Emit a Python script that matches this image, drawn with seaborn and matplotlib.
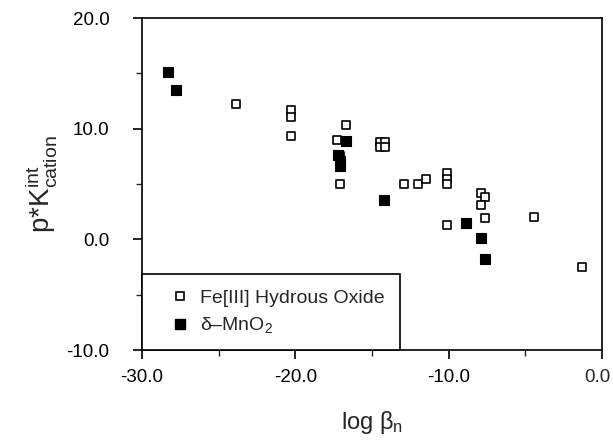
import matplotlib
matplotlib.use('Agg')
import matplotlib.pyplot as plt
import seaborn as sns
import pandas as pd
from matplotlib.lines import Line2D
from matplotlib.ticker import MultipleLocator, FuncFormatter, FormatStrFormatter

# Fe[III] hydrous oxide (open squares)
fe_log_beta = [-23.9, -20.3, -20.3, -20.3, -16.7, -17.25, -17.1, -17.1,
               -14.5, -14.15, -14.5, -14.15, -12.9, -12.0, -11.5,
               -10.1, -10.1, -10.1, -10.1, -7.9, -7.6, -7.9, -7.6, -4.45, -1.3]
fe_pk = [12.2, 11.65, 11.1, 9.3, 10.3, 9.0, 7.5, 5.0,
         8.8, 8.8, 8.35, 8.35, 5.0, 5.0, 5.5,
         6.0, 5.5, 5.0, 1.3, 4.2, 3.8, 3.1, 1.9, 2.05, -2.5]

# delta-MnO2 (filled squares)
mn_log_beta = [-28.3, -27.8, -16.7, -17.2, -17.1, -17.1, -14.2, -8.85, -7.9, -7.6]
mn_pk = [15.1, 13.5, 8.9, 7.6, 7.1, 6.6, 3.6, 1.5, 0.15, -1.75]

sns.set_style('ticks')
plt.rcParams['font.family'] = ['Liberation Sans', 'DejaVu Sans']
plt.rcParams['mathtext.fontset'] = 'custom'
plt.rcParams['mathtext.rm'] = 'Liberation Sans'
plt.rcParams['mathtext.it'] = 'Liberation Sans:italic'

fe_df = pd.DataFrame({'log_beta': fe_log_beta, 'pk': fe_pk})
mn_df = pd.DataFrame({'log_beta': mn_log_beta, 'pk': mn_pk})

fig = plt.figure(figsize=(6.13, 4.41), dpi=100)
ax = fig.add_axes([0.2316, 0.2063, 0.7504, 0.7527])

sns.scatterplot(data=fe_df, x='log_beta', y='pk', marker='s', s=38,
                facecolor='white', edgecolor='black', linewidth=1.2, ax=ax, zorder=3)
sns.scatterplot(data=mn_df, x='log_beta', y='pk', marker='s', s=48,
                color='black', edgecolor='black', linewidth=0.8, ax=ax, zorder=4)

ax.set_xlim(-30, 0)
ax.set_ylim(-10, 20)
ax.xaxis.set_major_locator(MultipleLocator(10))
ax.xaxis.set_minor_locator(MultipleLocator(5))
ax.yaxis.set_major_locator(MultipleLocator(10))
ax.yaxis.set_minor_locator(MultipleLocator(5))
# the 0.0 label at the right edge is drawn separately, nudged left to fit
ax.xaxis.set_major_formatter(FuncFormatter(lambda v, p: '' if abs(v) < 1e-9 else f'{v:.1f}'))
ax.yaxis.set_major_formatter(FormatStrFormatter('%.1f'))
ax.tick_params(which='major', direction='out', length=6.5, width=1.2,
               labelsize=13.5, colors='black')
ax.tick_params(which='minor', direction='out', length=4, width=1.0)
ax.tick_params(axis='y', which='major', pad=17)
ax.tick_params(axis='x', which='major', pad=7)
for sp in ax.spines.values():
    sp.set_linewidth(1.2)
    sp.set_color('black')

ax.annotate('0.0', xy=(1, 0), xycoords='axes fraction', xytext=(-3, -13.5),
            textcoords='offset points', ha='center', va='top', fontsize=13.5)

ax.set_xlabel(r'log β$_{\rm n}$', fontsize=17, labelpad=17)
ax.set_ylabel(r'p*K$^{\rm int}_{\rm cation}$', fontsize=20, labelpad=5)

handles = [
    Line2D([], [], linestyle='none', marker='s', markersize=5.5, markerfacecolor='white',
           markeredgecolor='black', markeredgewidth=1.2),
    Line2D([], [], linestyle='none', marker='s', markersize=7, markerfacecolor='black',
           markeredgecolor='black'),
]
leg = ax.legend(handles, ['Fe[III] Hydrous Oxide', r'δ–MnO$_2$'], loc='lower left',
                bbox_to_anchor=(0, 0), borderaxespad=0, fontsize=14, frameon=True,
                fancybox=False, borderpad=0.75, handletextpad=-0.15, labelspacing=0.45,
                handlelength=2.4)
leg.get_frame().set_edgecolor('black')
leg.get_frame().set_linewidth(1.2)
leg.get_frame().set_alpha(1)

fig.savefig('out.png', dpi=100)
